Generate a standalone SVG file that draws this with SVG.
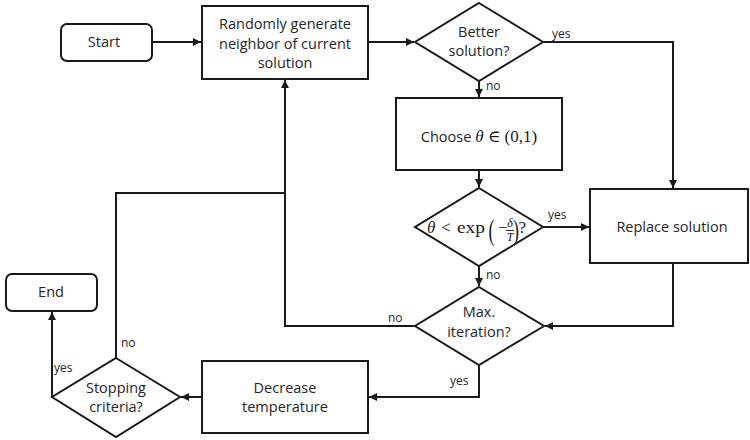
<svg xmlns="http://www.w3.org/2000/svg" width="750" height="440" viewBox="0 0 750 440">
  <defs>
    <marker id="arrow" viewBox="0 0 10 10" refX="10" refY="5" markerWidth="8" markerHeight="8" markerUnits="userSpaceOnUse" orient="auto">
      <path d="M0,0 L10,5 L0,10 z" fill="#1a1a1a"/>
    </marker>
    <style>
      .box { fill: #ffffff; stroke: #1a1a1a; stroke-width: 2; }
      .conn { fill: none; stroke: #1a1a1a; stroke-width: 2; }
      .lbl { font-family: "Open Sans", "Liberation Sans", sans-serif; font-size: 14.5px; fill: #262626; text-anchor: middle; }
      .small { font-family: "Open Sans", "Liberation Sans", sans-serif; font-size: 12px; fill: #262626; }
      .math { font-family: "Liberation Serif", "DejaVu Serif", serif; fill: #1a1a1a; }
      .it { font-style: italic; }
    </style>
  </defs>

  <rect width="750" height="440" fill="#ffffff"/>

  <!-- connectors -->
  <g id="connectors">
    <path class="conn" d="M152,42 H201" marker-end="url(#arrow)"/>
    <path class="conn" d="M368,42 H414" marker-end="url(#arrow)"/>
    <path class="conn" d="M543,42 H673 V188" marker-end="url(#arrow)"/>
    <path class="conn" d="M479,81 V97" marker-end="url(#arrow)"/>
    <path class="conn" d="M479,170 V187" marker-end="url(#arrow)"/>
    <path class="conn" d="M543,227 H589" marker-end="url(#arrow)"/>
    <path class="conn" d="M479,266 V286" marker-end="url(#arrow)"/>
    <path class="conn" d="M673,263 V326 H545" marker-end="url(#arrow)"/>
    <path class="conn" d="M415,326 H285 V80" marker-end="url(#arrow)"/>
    <path class="conn" d="M479,365 V397 H369" marker-end="url(#arrow)"/>
    <path class="conn" d="M202,397 H181" marker-end="url(#arrow)"/>
    <path class="conn" d="M52,397 V312" marker-end="url(#arrow)"/>
    <path class="conn" d="M116,358 V193 H285"/>
    <text class="small" x="552" y="38">yes</text>
    <text class="small" x="486" y="90">no</text>
    <text class="small" x="548" y="219">yes</text>
    <text class="small" x="486" y="279">no</text>
    <text class="small" x="388" y="322">no</text>
    <text class="small" x="450" y="385">yes</text>
    <text class="small" x="121" y="347">no</text>
    <text class="small" x="54" y="372">yes</text>
  </g>

  <!-- nodes -->
  <g id="start">
    <rect class="box" x="61" y="24" width="91" height="37" rx="6"/>
    <text class="lbl" x="104" y="47">Start</text>
  </g>

  <g id="generate">
    <rect class="box" x="202" y="6" width="166" height="73"/>
    <text class="lbl" x="285" y="29">Randomly generate</text>
    <text class="lbl" x="285" y="48.5">neighbor of current</text>
    <text class="lbl" x="285" y="68">solution</text>
  </g>

  <g id="better">
    <polygon class="box" points="479,3 543,42 479,81 415,42"/>
    <text class="lbl" x="479" y="37">Better</text>
    <text class="lbl" x="479" y="56">solution?</text>
  </g>

  <g id="choose">
    <rect class="box" x="396" y="98" width="166" height="72"/>
    <text class="lbl" x="479" y="142">Choose <tspan class="math it" font-size="17">θ</tspan><tspan class="math" font-size="17"> ∈ (0,1)</tspan></text>
  </g>

  <g id="accept">
    <polygon class="box" points="479,188 543,227 479,266 415,227"/>
    <g class="math" font-size="17">
      <text class="it" x="427" y="233">θ</text>
      <text x="441" y="233">&lt;</text>
      <text x="457" y="233" textLength="28" lengthAdjust="spacingAndGlyphs">exp</text>
      <text transform="translate(488.5,240) scale(0.6,1)" font-size="30">(</text>
      <text x="498" y="233">−</text>
      <text class="it" x="510" y="227" font-size="12" text-anchor="middle">δ</text>
      <line x1="506" y1="230.5" x2="514" y2="230.5" stroke="#1a1a1a" stroke-width="0.9"/>
      <text class="it" x="510" y="240.5" font-size="12" text-anchor="middle">T</text>
      <text transform="translate(513,240) scale(0.6,1)" font-size="30">)</text>
      <text x="518.5" y="233">?</text>
    </g>
  </g>

  <g id="replace">
    <rect class="box" x="590" y="189" width="158" height="74"/>
    <text class="lbl" x="672" y="232">Replace solution</text>
  </g>

  <g id="maxiter">
    <polygon class="box" points="479,287 544,326 479,365 415,326"/>
    <text class="lbl" x="479" y="317">Max.</text>
    <text class="lbl" x="479" y="337">iteration?</text>
  </g>

  <g id="decrease">
    <rect class="box" x="202" y="361" width="166" height="72"/>
    <text class="lbl" x="285" y="393">Decrease</text>
    <text class="lbl" x="285" y="412">temperature</text>
  </g>

  <g id="stopping">
    <polygon class="box" points="116,358 180,397 116,437 52,397"/>
    <text class="lbl" x="116" y="393">Stopping</text>
    <text class="lbl" x="116" y="412">criteria?</text>
  </g>

  <g id="end">
    <rect class="box" x="6" y="274" width="91" height="37" rx="6"/>
    <text class="lbl" x="51" y="297">End</text>
  </g>
</svg>
